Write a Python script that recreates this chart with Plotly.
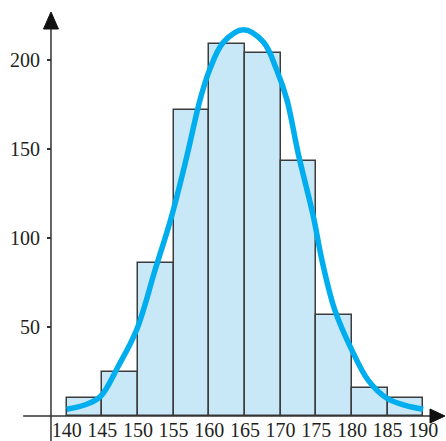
import plotly.graph_objects as go

# Histogram data
bin_left = [140, 145, 150, 155, 160, 165, 170, 175, 180, 185]
bin_width = 5
counts = [10, 25, 86, 172, 209, 204, 143, 57, 16, 10]

# Normal-like curve
curve_x = [140, 142.5, 144.7, 147.2, 149.8, 152.4, 154.7, 156.8, 158.7, 160.0, 162.0,
           164.8, 167.6, 169.5, 170.9, 172.5, 174.6, 175.8, 177.6, 180.0, 182.3,
           184.9, 187.5, 190]
curve_y = [3.8, 6.2, 10.8, 27.7, 48.3, 82, 112, 145, 177.5, 194, 210,
           217, 210, 194, 177.5, 147, 112, 87.6, 59.6, 37, 20,
           10, 6, 3.8]

x_ticks = [140, 145, 150, 155, 160, 165, 170, 175, 180, 185, 190]
y_ticks = [50, 100, 150, 200]

x_range = [130.65, 193.2]
y_range = [-14.04, 233.7]
y_axis_at = 137.8

font = dict(family="Liberation Serif", size=20, color="#231f20")

fig = go.Figure()
fig.add_trace(go.Bar(
    x=[b + bin_width / 2 for b in bin_left], y=counts, width=bin_width,
    marker=dict(color="#c8e8f8", line=dict(color="#3c3c3c", width=1.5)),
    hoverinfo="skip",
))
fig.add_trace(go.Scatter(
    x=curve_x, y=curve_y, mode="lines",
    line=dict(color="#00aeef", width=5.5, shape="spline", smoothing=1.0),
    hoverinfo="skip",
))

xpos = (0 - y_range[0]) / (y_range[1] - y_range[0])
ypos = (y_axis_at - x_range[0]) / (x_range[1] - x_range[0])

fig.update_layout(
    width=446, height=441, margin=dict(l=0, r=0, t=0, b=0),
    paper_bgcolor="white", plot_bgcolor="white", showlegend=False,
    bargap=0,
    xaxis=dict(range=x_range, tickvals=x_ticks, ticktext=[str(v) for v in x_ticks],
               showgrid=False, zeroline=False, showline=False, ticks="",
               anchor="free", position=xpos, tickfont=font, fixedrange=True,
               automargin=False),
    yaxis=dict(range=y_range, tickvals=y_ticks, ticktext=[str(v) for v in y_ticks],
               showgrid=False, zeroline=False, showline=False,
               ticks="outside", ticklen=4, tickwidth=1.5, tickcolor="#333",
               ticklabelstandoff=3,
               anchor="free", position=ypos, tickfont=font, fixedrange=True,
               automargin=False),
    shapes=[
        # x axis line
        dict(type="line", xref="x", yref="y", x0=133.9, x1=192.0, y0=0, y1=0,
             line=dict(color="#333", width=1.5), layer="above"),
        # y axis line
        dict(type="line", xref="x", yref="y", x0=y_axis_at, x1=y_axis_at, y0=y_range[0], y1=222,
             line=dict(color="#333", width=1.5), layer="above"),
        # y arrowhead
        dict(type="path", xref="x", yref="y", xsizemode="pixel", ysizemode="pixel",
             xanchor=y_axis_at, yanchor=y_range[1] - (12 / 1.78),
             path="M -7.5,-17 L 7.5,-17 L 0,0 Z",
             fillcolor="#111", line=dict(color="#111", width=1), layer="above"),
        # x arrowhead
        dict(type="path", xref="x", yref="y", xsizemode="pixel", ysizemode="pixel",
             xanchor=193.2, yanchor=0,
             path="M -1,0 L -16,7 L -16,-7 Z",
             fillcolor="#111", line=dict(color="#111", width=1), layer="above"),
    ],
)

fig.write_html("out.html", config={"displayModeBar": False},
               post_script="document.body.style.margin='0';")
